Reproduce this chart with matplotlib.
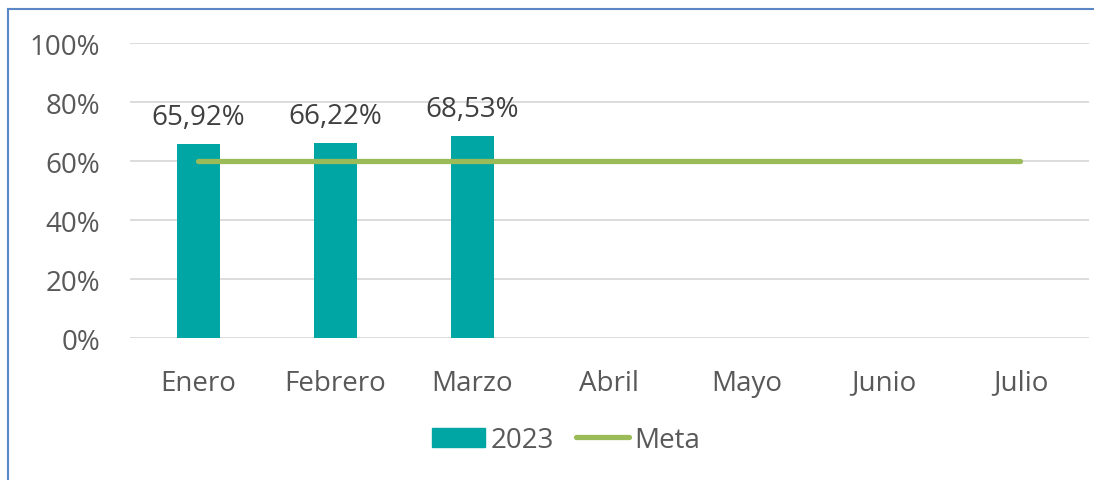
import matplotlib
matplotlib.use("Agg")
import matplotlib.pyplot as plt
from matplotlib.lines import Line2D
from matplotlib.patches import Patch

plt.rcParams['font.family'] = ['Open Sans', 'DejaVu Sans']

months = ["Enero", "Febrero", "Marzo", "Abril", "Mayo", "Junio", "Julio"]
values_2023 = [65.92, 66.22, 68.53]
meta = [60, 60, 60, 60, 60, 60, 60]
yticks = [0, 20, 40, 60, 80, 100]

teal = "#00A6A3"
green = "#9BBB59"
text_c = "#595959"

fig = plt.figure(figsize=(10.94, 4.81), dpi=100)
ax = fig.add_axes([0.1188, 0.2952, 0.8766, 0.6133])

x = list(range(len(months)))
bars = ax.bar(x[:len(values_2023)], values_2023, width=0.31, color=teal, zorder=3)
ax.plot(x, meta, color=green, lw=3.8, solid_capstyle='round', zorder=4)

for xi, v in zip(x, values_2023):
    ax.text(xi, v + 4.3, f"{v:.2f}%".replace(".", ","), ha='center', va='bottom',
            fontsize=20, color="#404040")

ax.set_xlim(-0.5, len(months) - 0.5)
ax.set_ylim(0, 100)
ax.set_yticks(yticks)
ax.set_yticklabels([f"{t}%" for t in yticks])
ax.set_xticks(x)
ax.set_xticklabels(months)
ax.tick_params(axis='both', length=0, labelsize=20, colors=text_c)
ax.tick_params(axis='y', pad=21.5)
ax.tick_params(axis='x', pad=22)
ax.grid(axis='y', color="#D9D9D9", lw=1.3, zorder=0)
for s in ax.spines.values():
    s.set_visible(False)

handles = [Patch(color=teal, label="2023"),
           Line2D([0], [0], color=green, lw=3.8, solid_capstyle='round', label="Meta")]
leg = fig.legend(handles=handles, loc='center', bbox_to_anchor=(566/1094, 1 - 441/481),
                 ncol=2, frameon=False, fontsize=20, handlelength=1.9, handleheight=0.65,
                 handletextpad=0.2, columnspacing=0.8, labelcolor=text_c)

# figure border (left and top)
border = "#5B87C5"
fig.add_artist(Line2D([8/1094, 8/1094], [0, 1 - 10/481], color=border, lw=1.5,
                      transform=fig.transFigure))
fig.add_artist(Line2D([8/1094, 1], [1 - 10/481, 1 - 10/481], color=border, lw=1.5,
                      transform=fig.transFigure))

fig.savefig("out.png", dpi=100)
